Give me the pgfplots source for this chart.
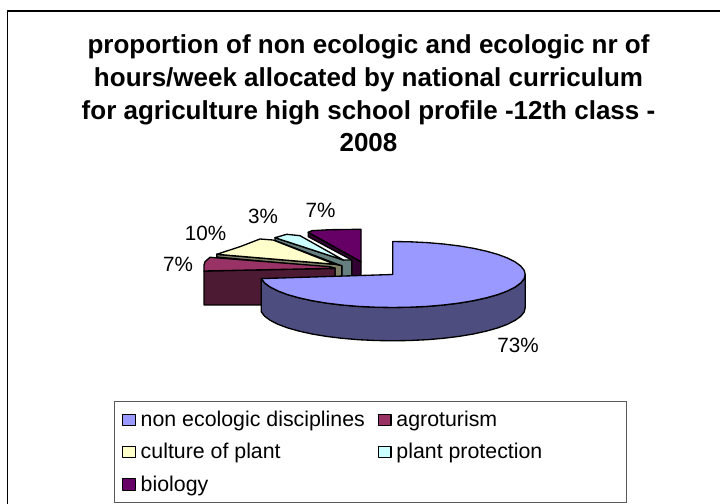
\documentclass[border=0pt]{standalone}
\usepackage{pgfplots}
\pgfplotsset{compat=1.18}
\usepackage{fontspec}
\setmainfont{Liberation Sans}
\definecolor{sliceA}{HTML}{9999FF}\definecolor{wallA}{HTML}{4D4D80}
\definecolor{sliceB}{HTML}{993366}\definecolor{wallB}{HTML}{4D1A33}
\definecolor{sliceC}{HTML}{FFFFCC}\definecolor{wallC}{HTML}{808066}
\definecolor{sliceD}{HTML}{CCFFFF}\definecolor{wallD}{HTML}{668080}
\definecolor{sliceE}{HTML}{660066}\definecolor{wallE}{HTML}{330033}
\begin{document}
\begin{tikzpicture}
\begin{axis}[
  name=pie, anchor=south west, at={(0pt,0pt)},
  scale only axis, width=540pt, height=377.25pt,
  xmin=0, xmax=720, ymin=0, ymax=503, y dir=reverse,
  axis lines=none,
  legend columns=2,
  legend cell align=left,
  legend image code/.code={\path[#1,draw=black,line width=.8pt] (0pt,-4.3pt) rectangle (9.4pt,4.3pt);\path[draw=none,fill=none] (0pt,0pt) -- (11.5pt,0pt);},
  legend style={
    at={(axis cs:114,401)}, anchor=north west,
    draw=black!65, line width=1.1pt, fill=white,
    font=\fontsize{16}{19}\selectfont,
    inner xsep=5.6pt, inner ysep=5.2pt,
    /tikz/every even column/.style={column sep=7.8pt},
    row sep=7pt,
  },
  every axis plot/.append style={forget plot, draw=black, line width=1pt, line join=round},
]
\addlegendimage{fill=sliceA}\addlegendentry{non ecologic disciplines}
\addlegendimage{fill=sliceB}\addlegendentry{agroturism}
\addlegendimage{fill=sliceC}\addlegendentry{culture of plant}
\addlegendimage{fill=sliceD}\addlegendentry{\makebox[165pt][l]{plant protection}}
\addlegendimage{fill=sliceE}\addlegendentry{biology}

% chart frame, running off the page at right and bottom
\addplot[line width=1.1pt] coordinates {(7.5,520) (7.5,11) (740,11)};

% biology: 7 %
\addplot[fill=wallE] coordinates {(308.3,232.3) (361,261.7) (361,280) (351.7,280) (351.7,260) (308.3,236.7)} --cycle;
\addplot[fill=sliceE] coordinates {(308.3,232.3) (311.7,230.7) (330,229.7) (361,229.3) (361,261.7)} --cycle;
% plant protection: 3 %
\addplot[fill=wallD] coordinates {(275,237.7) (343.3,260) (351.7,260) (351.7,280) (342,280) (342,266) (275,240.5)} --cycle;
\addplot[fill=sliceD] coordinates {(275,237.7) (286.7,234.3) (300,235.7) (343.3,260)} --cycle;
% culture of plant: 10 %
\addplot[fill=wallC] coordinates {(216.7,254.3) (335,264.3) (341.7,265.7) (341.7,280) (335,280) (335,268) (216.7,257)} --cycle;
\addplot[fill=sliceC] coordinates {(216.7,254.3) (240,246.7) (260,239) (273,240) (335,264.3)} --cycle;
% agroturism: 7 %
\addplot[fill=wallB] coordinates {(204,271) (335,268.3) (335,280) (280,295) (280,305) (204,305)} --cycle;
\addplot[fill=sliceB] coordinates {(204,271) (204,265) (205,261.7) (210,257.3) (330,266.7) (335,268.3)} --cycle;

% non ecologic disciplines: 73 %, side wall then top face
\addplot[fill=wallA] coordinates {
  (525.2,274.5) (524.1,278.8) (520.7,283.0) (515.1,287.1) (507.4,291.0) (497.8,294.6) (486.4,297.8)
  (473.4,300.7) (459.0,303.1) (443.4,305.0) (427.0,306.4) (410.0,307.2) (392.7,307.5) (375.4,307.2)
  (358.4,306.4) (342.0,305.0) (326.4,303.1) (312.0,300.7) (299.0,297.8) (287.6,294.6) (278.0,291.0)
  (270.3,287.1) (264.7,283.0) (261.3,278.6)
  (261.3,311.9) (264.7,316.3) (270.3,320.4) (278.0,324.3) (287.6,327.9) (299.0,331.1) (312.0,334.0)
  (326.4,336.4) (342.0,338.3) (358.4,339.7) (375.4,340.5) (392.7,340.8) (410.0,340.5) (427.0,339.7)
  (443.4,338.3) (459.0,336.4) (473.4,334.0) (486.4,331.1) (497.8,327.9) (507.4,324.3) (515.1,320.4)
  (520.7,316.3) (524.1,312.1) (525.2,307.8)} --cycle;
\addplot[fill=sliceA] coordinates {
  (392.7,274.5) (392.7,241.5) (410.0,241.8) (427.0,242.6) (443.4,244.0) (459.0,245.9) (473.4,248.3)
  (486.4,251.2) (497.8,254.4) (507.4,258.0) (515.1,261.9) (520.7,266.0) (524.1,270.2) (525.2,274.5)
  (524.1,278.8) (520.7,283.0) (515.1,287.1) (507.4,291.0) (497.8,294.6) (486.4,297.8)
  (473.4,300.7) (459.0,303.1) (443.4,305.0) (427.0,306.4) (410.0,307.2) (392.7,307.5) (375.4,307.2)
  (358.4,306.4) (342.0,305.0) (326.4,303.1) (312.0,300.7) (299.0,297.8) (287.6,294.6) (278.0,291.0)
  (270.3,287.1) (264.7,283.0) (261.3,278.6)} --cycle;

% title and percentage labels
\node[align=center, font=\fontsize{19.5}{24.4}\selectfont\bfseries, anchor=center] at (axis cs:368.5,93.5)
  {proportion of non ecologic and ecologic nr of\\hours/week allocated by national curriculum\\for agriculture high school profile -12th class -\\2008};
\node[font=\fontsize{15.5}{18}\selectfont] at (axis cs:518,345) {73\%};
\node[font=\fontsize{15.5}{18}\selectfont] at (axis cs:320.5,210.7) {7\%};
\node[font=\fontsize{15.5}{18}\selectfont] at (axis cs:263,216.7) {3\%};
\node[font=\fontsize{15.5}{18}\selectfont] at (axis cs:205.5,233) {10\%};
\node[font=\fontsize{15.5}{18}\selectfont] at (axis cs:178,264) {7\%};
\end{axis}
\pgfresetboundingbox
\path[use as bounding box] (0pt,0pt) rectangle (540pt,377.25pt);
\end{tikzpicture}
\end{document}
